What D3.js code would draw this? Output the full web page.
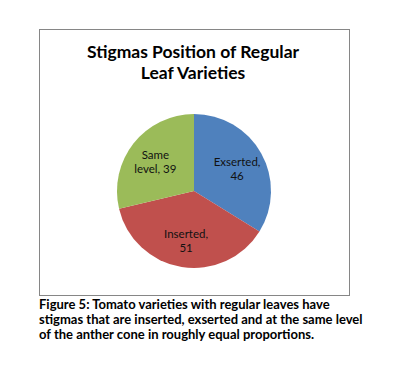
<!DOCTYPE html>
<html>
<head>
    <meta charset="utf-8">
    <script src="https://d3js.org/d3.v7.min.js"></script>
    <style>
        body { margin: 0; background: #fff; }
        text { font-family: Lato, "Open Sans", sans-serif; }
    </style>
</head>
<body>
    <div id="my_dataviz"></div>
    <script>
        // data
        var categories = ["Exserted", "Inserted", "Same level"];
        var values = [46, 51, 39];
        var colors = ["#4F81BD", "#C0504D", "#9BBB59"];
        var titleLines = ["Stigmas Position of Regular", "Leaf Varieties"];
        var captionLines = [
            "Figure 5: Tomato varieties with regular leaves have",
            "stigmas that are inserted, exserted and at the same level",
            "of the anther cone in roughly equal proportions."
        ];

        var width = 419, height = 391;
        var box = { x: 39.5, y: 29.5, w: 310, h: 266 };
        var cx = 194, cy = 191, radius = 77;

        var svg = d3.select("#my_dataviz")
            .append("svg")
            .attr("width", width)
            .attr("height", height);

        // chart border
        svg.append("rect")
            .attr("x", box.x)
            .attr("y", box.y)
            .attr("width", box.w)
            .attr("height", box.h)
            .attr("fill", "#fff")
            .attr("stroke", "#868686")
            .attr("stroke-width", 1);

        // title
        svg.append("text")
            .attr("text-anchor", "middle")
            .attr("font-weight", "bold")
            .attr("font-size", 17.5)
            .attr("fill", "#000")
            .selectAll("tspan")
            .data(titleLines)
            .join("tspan")
            .attr("x", 193)
            .attr("y", function (d, i) { return 58 + i * 21; })
            .text(function (d) { return d; });

        var data = categories.map(function (c, i) { return { name: c, value: values[i], color: colors[i] }; });

        var pie = d3.pie().sort(null).value(function (d) { return d.value; });
        var arc = d3.arc().innerRadius(0).outerRadius(radius);
        var labelArc = d3.arc().innerRadius(radius * 0.64).outerRadius(radius * 0.64);

        var g = svg.append("g")
            .attr("transform", "translate(" + cx + "," + cy + ")");

        var arcs = pie(data);

        g.selectAll("path")
            .data(arcs)
            .join("path")
            .attr("d", arc)
            .attr("fill", function (d) { return d.data.color; })
            .attr("stroke", "none");

        // labels: "name," on first line, value on second
        var labels = g.selectAll("text.lbl")
            .data(arcs)
            .join("text")
            .attr("class", "lbl")
            .attr("text-anchor", "middle")
            .attr("font-size", 11.5)
            .attr("fill", "#111")
            .attr("transform", function (d) {
                var c = labelArc.centroid(d);
                return "translate(" + c[0] + "," + c[1] + ")";
            });

        labels.each(function (d) {
            var t = d3.select(this);
            var l1, l2;
            if (d.data.name === "Same level") {
                l1 = "Same";
                l2 = "level, " + d.data.value;
            } else {
                l1 = d.data.name + ",";
                l2 = String(d.data.value);
            }
            t.append("tspan").attr("x", 0).attr("dy", "-0.1em").text(l1);
            t.append("tspan").attr("x", 0).attr("dy", "1.2em").text(l2);
        });

        // caption
        svg.append("text")
            .attr("font-weight", "bold")
            .attr("font-size", 13)
            .attr("fill", "#000")
            .selectAll("tspan")
            .data(captionLines)
            .join("tspan")
            .attr("x", 39)
            .attr("y", function (d, i) { return 309 + i * 15; })
            .text(function (d) { return d; });
    </script>
</body>
</html>
